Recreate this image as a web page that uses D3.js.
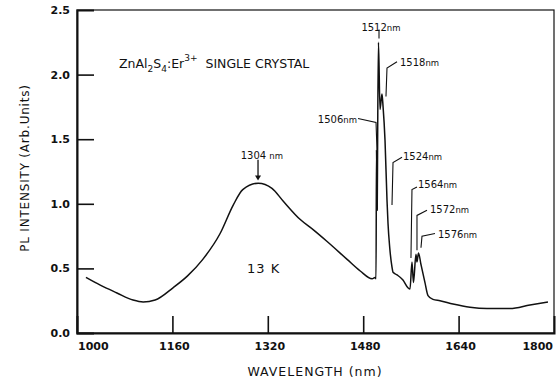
<!DOCTYPE html>
<html>
<head>
<meta charset="utf-8">
<script src="https://cdn.jsdelivr.net/npm/d3@7"></script>
<style>
    body { margin: 0; background: #fff; }
    svg { display: block; font-family: "DejaVu Sans", sans-serif; }
</style>
</head>
<body>
<svg id="vis"></svg>
<script>
"use strict"

const CHART_WIDTH = 560;
const CHART_HEIGHT = 383;
const MARGIN = { left: 77, right: 6, top: 10, bottom: 50 };
const X_DOMAIN = [1000, 1800];
const Y_DOMAIN = [0, 2.5];
const X_TICKS = [1000, 1160, 1320, 1480, 1640, 1800];
const Y_TICKS = [0.0, 0.5, 1.0, 1.5, 2.0, 2.5];
const TICK_LEN = 17;

// spectrum
const WAVELENGTH = [
    1015, 1039, 1067, 1094, 1111, 1131, 1161, 1185, 1211, 1240, 1262, 1278, 1304, 1327,
    1346, 1374, 1396, 1419, 1453, 1475, 1495, 1500, 1501.5, 1502.3, 1503.5, 1504.2, 1505.6,
    1508.2, 1511.5, 1513.2, 1516.6, 1519.9, 1521.6, 1524.5, 1528.3, 1530, 1536.7, 1546.7,
    1555.1, 1558.5, 1561.8, 1564.3, 1568.5, 1570.2, 1572.7, 1576.9, 1583.6, 1588.7, 1597,
    1608.8, 1630.6, 1659.1, 1687.6, 1726.2, 1759.7, 1789.9
];
const INTENSITY = [
    0.43, 0.37, 0.31, 0.255, 0.24, 0.255, 0.35, 0.44, 0.57, 0.77, 0.99, 1.11, 1.16, 1.12,
    1.02, 0.88, 0.80, 0.71, 0.57, 0.48, 0.42, 0.43, 0.42, 1.42, 0.95, 1.50, 2.25,
    1.73, 1.85, 1.76, 1.49, 1.03, 0.85, 0.66, 0.51, 0.47, 0.45, 0.41,
    0.35, 0.34, 0.55, 0.39, 0.61, 0.55, 0.62, 0.53, 0.39, 0.29, 0.26,
    0.25, 0.225, 0.20, 0.19, 0.19, 0.217, 0.24
];

// peak labels: text anchor point and leader polyline, in data units
const PEAK_LABELS = ["1506", "1512", "1518", "1524", "1564", "1572", "1576"];
const PEAK_TEXT = [[1469.6, 1.66, "end"], [1509.8, 2.37, "middle"], [1541.7, 2.10, "start"],
    [1546.7, 1.37, "start"], [1571.9, 1.15, "start"], [1592, 0.96, "start"], [1605.4, 0.77, "start"]];
const PEAK_LEADERS = [
    [[1471.3, 1.66], [1501.5, 1.63], [1503.1, 1.42]],
    [[1506.5, 2.35], [1506.5, 2.28]],
    [[1536.7, 2.10], [1519.9, 2.05], [1518.2, 1.83]],
    [[1545.1, 1.36], [1530.0, 1.32], [1528.3, 0.99]],
    [[1570.2, 1.13], [1561.8, 1.11], [1560.1, 0.58]],
    [[1587.0, 0.95], [1570.2, 0.91], [1570.2, 0.64]],
    [[1600.4, 0.77], [1578.6, 0.75], [1576.9, 0.66]]
];

const svg = d3.select("#vis")
    .attr("width", CHART_WIDTH)
    .attr("height", CHART_HEIGHT);

const x = d3.scaleLinear(X_DOMAIN, [MARGIN.left, CHART_WIDTH - MARGIN.right]);
const y = d3.scaleLinear(Y_DOMAIN, [CHART_HEIGHT - MARGIN.bottom, MARGIN.top]);

// frame
svg.append("rect")
    .attr("x", x(X_DOMAIN[0]))
    .attr("y", y(Y_DOMAIN[1]))
    .attr("width", x(X_DOMAIN[1]) - x(X_DOMAIN[0]))
    .attr("height", y(Y_DOMAIN[0]) - y(Y_DOMAIN[1]))
    .attr("fill", "none")
    .attr("stroke", "#111")
    .attr("stroke-width", 1.2);

// axes, ticks pointing inward
const xAxis = svg.append("g")
    .attr("transform", `translate(0,${y(0)})`)
    .call(d3.axisTop(x).tickValues(X_TICKS).tickSize(TICK_LEN).tickFormat(""));
const yAxis = svg.append("g")
    .attr("transform", `translate(${x(1000)},0)`)
    .call(d3.axisRight(y).tickValues(Y_TICKS).tickSize(TICK_LEN).tickFormat(""));
[xAxis, yAxis].forEach(g => {
    g.select(".domain").attr("stroke", "#111").attr("stroke-width", 2);
    g.selectAll(".tick line").attr("stroke", "#111").attr("stroke-width", 1.6);
});
// end ticks sit on the frame
xAxis.selectAll(".tick").filter(d => d === 1000 || d === 1800).select("line").remove();
yAxis.selectAll(".tick").filter(d => d === 0 || d === 2.5).select("line").remove();

// tick labels
svg.append("g").selectAll("text")
    .data(X_TICKS)
    .join("text")
    .attr("x", (d, i) => i === 0 ? x(d) + 1 : i === X_TICKS.length - 1 ? x(d) - 1 : x(d) + 2)
    .attr("y", y(0) + 17)
    .attr("text-anchor", (d, i) => i === 0 ? "start" : i === X_TICKS.length - 1 ? "end" : "middle")
    .attr("font-size", 11)
    .attr("font-weight", "bold")
    .attr("fill", "#111")
    .text(d => d);

svg.append("g").selectAll("text")
    .data(Y_TICKS)
    .join("text")
    .attr("x", x(1000) - 7)
    .attr("y", d => y(d) + 4)
    .attr("text-anchor", "end")
    .attr("font-size", 11)
    .attr("font-weight", "bold")
    .attr("fill", "#111")
    .text(d => d.toFixed(1));

// axis titles
svg.append("text")
    .attr("x", 315)
    .attr("y", 376)
    .attr("text-anchor", "middle")
    .attr("font-size", 12.5)
    .attr("letter-spacing", 1)
    .attr("fill", "#111")
    .text("WAVELENGTH (nm)");

svg.append("text")
    .attr("transform", "translate(29,168) rotate(-90)")
    .attr("text-anchor", "middle")
    .attr("font-size", 12)
    .attr("letter-spacing", 0.8)
    .attr("fill", "#111")
    .text("PL INTENSITY (Arb.Units)");

// spectrum
const line = d3.line()
    .x((d, i) => x(WAVELENGTH[i]))
    .y(d => y(d))
    .curve(d3.curveMonotoneX);
svg.append("path")
    .attr("d", line(INTENSITY))
    .attr("fill", "none")
    .attr("stroke", "#111")
    .attr("stroke-width", 1.5)
    .attr("stroke-linejoin", "round");

// sample title
const title = svg.append("text")
    .attr("x", 119)
    .attr("y", 68)
    .attr("font-size", 12.5)
    .attr("fill", "#111");
title.append("tspan").text("ZnAl");
title.append("tspan").attr("font-size", 9).attr("dy", 4).text("2");
title.append("tspan").attr("dy", -4).text("S");
title.append("tspan").attr("font-size", 9).attr("dy", 4).text("4");
title.append("tspan").attr("dy", -4).text(":Er");
title.append("tspan").attr("font-size", 9).attr("dy", -7).text("3+");
title.append("tspan").attr("dy", 7).attr("dx", 8).text("SINGLE CRYSTAL");

svg.append("text")
    .attr("x", 247)
    .attr("y", 273)
    .attr("font-size", 13)
    .attr("letter-spacing", 1)
    .attr("fill", "#111")
    .text("13  K");

// 1304 nm arrow
const hump = svg.append("text")
    .attr("x", x(1310))
    .attr("y", y(1.38) + 4)
    .attr("text-anchor", "middle")
    .attr("font-size", 10)
    .attr("fill", "#111");
hump.append("tspan").text("1304 ");
hump.append("tspan").attr("font-size", 8.5).text("nm");
svg.append("line")
    .attr("x1", x(1303.6)).attr("x2", x(1303.6))
    .attr("y1", y(1.34)).attr("y2", y(1.21))
    .attr("stroke", "#111").attr("stroke-width", 1.3);
svg.append("path")
    .attr("d", `M${x(1303.6) - 3},${y(1.22)} L${x(1303.6) + 3},${y(1.22)} L${x(1303.6)},${y(1.18)} Z`)
    .attr("fill", "#111");

// peak labels and leaders
const leader = d3.line().x(d => x(d[0])).y(d => y(d[1]));
PEAK_LEADERS.forEach(pts => {
    svg.append("path")
        .attr("d", leader(pts))
        .attr("fill", "none")
        .attr("stroke", "#111")
        .attr("stroke-width", 1.1);
});
PEAK_LABELS.forEach((lab, i) => {
    const t = svg.append("text")
        .attr("x", x(PEAK_TEXT[i][0]))
        .attr("y", y(PEAK_TEXT[i][1]) + 4)
        .attr("text-anchor", PEAK_TEXT[i][2])
        .attr("font-size", 10)
        .attr("fill", "#111");
    t.append("tspan").text(lab);
    t.append("tspan").attr("font-size", 8.5).text("nm");
});
</script>
</body>
</html>
